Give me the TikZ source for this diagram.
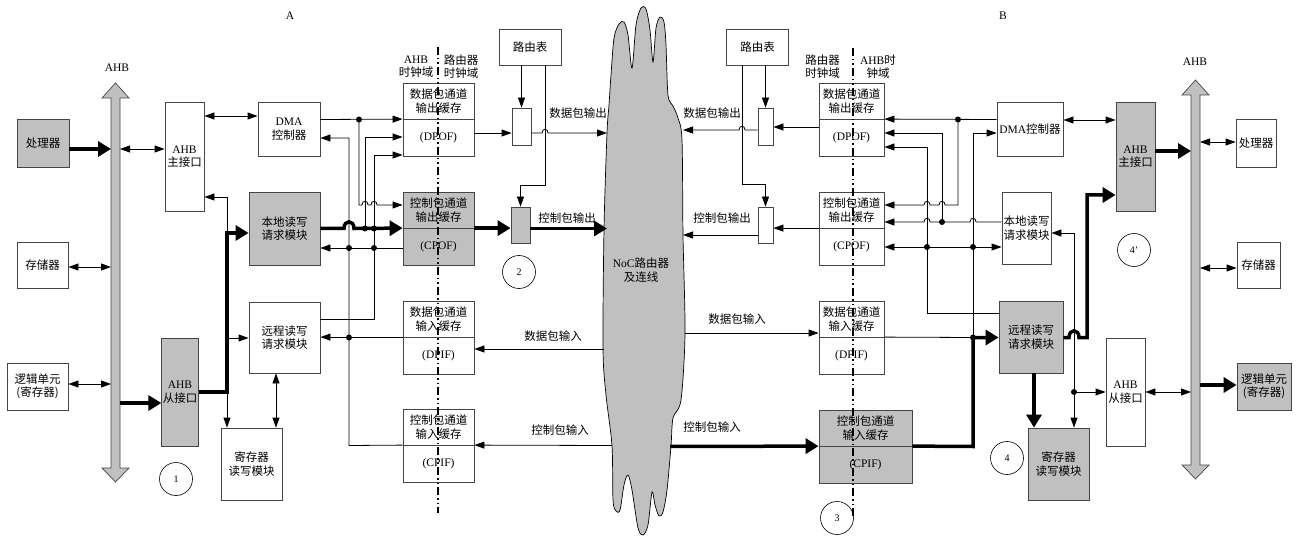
\documentclass[tikz,border=0pt]{standalone}
\usepackage{fontspec}
\setmainfont{Liberation Serif}
\newfontfamily\zh{Noto Sans CJK SC}
\usetikzlibrary{arrows.meta}
\usetikzlibrary{calc}

\definecolor{busgray}{RGB}{192,192,192}
\definecolor{rimgray}{RGB}{70,70,70}
\newcommand{\latn}[1]{{\rmfamily #1}}

\begin{document}
\begin{tikzpicture}[x=1pt, y=-1pt, font=\zh\fontsize{11.5}{13.5}\selectfont,
    blk/.style={draw=rimgray, line width=0.8pt, align=center, inner sep=1pt},
    gblk/.style={blk, fill=busgray},
    ln/.style={line width=0.8pt},
    arr/.style={ln, -{Triangle[length=10pt,width=7pt]}},
    darr/.style={ln, {Triangle[length=10pt,width=7pt]}-{Triangle[length=10pt,width=7pt]}},
    fat/.style={line width=3.5pt},
    fatarr/.style={fat, -{Triangle[length=13pt,width=15pt]}},
    hop/.style={to path={.. controls ($(\tikztostart)+(0,-#1)$) and ($(\tikztotarget)+(0,-#1)$) .. (\tikztotarget)}},
    hop/.default=5,
    num/.style={circle, draw, line width=0.6pt, minimum size=33pt, inner sep=0pt, font=\rmfamily\fontsize{10}{12}\selectfont},
    tag/.style={inner sep=0pt},
    clk/.style={line width=1.4pt, dash pattern=on 8pt off 3pt on 1.5pt off 3pt on 1.5pt off 3pt}]

        \useasboundingbox (0,0) rectangle (1298,537);

        % Draw the NoC cloud
        \filldraw[fill=busgray, draw=black, line width=0.7pt] plot[smooth cycle, tension=0.5] coordinates {
          (611,75) (614,38) (619,24) (624,22) (628,35) (632,68) (636,25) (641,8) (646,9) (650,30)
          (653,62) (656,28) (660,17) (664,22) (666,45) (668,95) (673,106) (678,118) (682,140)
          (683,235) (685,333) (681,400) (673,418) (671,446) (667,490) (663,512) (659,516)
          (655,505) (652,492) (648,525) (643,535) (638,528) (632,490) (628,475) (624,485)
          (620,510) (616,511) (613,500) (612,446) (606,395) (603,349) (604,229) (607,133) (609,105)};
        \node[tag, align=center] (noc) at (641,270) {\latn{NoC}路由器\\及连线};

        % Draw the two AHB buses
        \foreach \bx/\ty/\by in {115.5/83/482, 1195.5/80/479}
        {
          \filldraw[fill=busgray, draw=rimgray, line width=0.7pt]
            (\bx-4.5,\ty+15) -- (\bx-13.5,\ty+15) -- (\bx,\ty) -- (\bx+13.5,\ty+15) -- (\bx+4.5,\ty+15)
            -- (\bx+4.5,\by-14) -- (\bx+13.5,\by-14) -- (\bx,\by) -- (\bx-13.5,\by-14) -- (\bx-4.5,\by-14) -- cycle;
        }
        \node[tag] (ahbL) at (117,68) {\latn{AHB}};
        \node[tag] (ahbR) at (1195,62) {\latn{AHB}};
        \node[tag] (labA) at (290,16) {\latn{A}};
        \node[tag] (labB) at (1003,16) {\latn{B}};

        % Node A blocks
        \node[gblk, minimum width=52pt, minimum height=48pt] (proc) at (43,143) {处理器};
        \node[blk, minimum width=51pt, minimum height=46pt] (mem) at (42.5,265) {存储器};
        \node[blk, minimum width=61pt, minimum height=47pt] (logic) at (37.5,386.5) {逻辑单元\\(寄存器)};
        \node[blk, minimum width=39pt, minimum height=109pt] (mst) at (184.5,156.5) {\latn{AHB}\\主接口};
        \node[gblk, minimum width=36pt, minimum height=108pt] (slv) at (180,392) {\latn{AHB}\\从接口};
        \node[blk, minimum width=62pt, minimum height=54pt] (dma) at (289,129) {\latn{DMA}\\控制器};
        \node[gblk, minimum width=71pt, minimum height=73pt] (loc) at (284.5,228.5) {本地读写\\请求模块};
        \node[blk, minimum width=71pt, minimum height=71pt] (rem) at (284.5,337.5) {远程读写\\请求模块};
        \node[blk, minimum width=61pt, minimum height=72pt] (reg) at (251.5,464) {寄存器\\读写模块};
        \node[blk, minimum width=62pt, minimum height=36pt] (rt) at (530,47) {路由表};
        \node[blk, minimum width=19pt, minimum height=37pt] (dmux) at (521.5,126.5) {};
        \node[gblk, minimum width=19pt, minimum height=36pt] (cmux) at (520.5,225) {};

        % Node B blocks
        \node[blk, minimum width=62pt, minimum height=36pt] (rtR) at (757.5,47) {路由表};
        \node[blk, minimum width=15pt, minimum height=37pt] (dmuxR) at (765.5,126.5) {};
        \node[blk, minimum width=15pt, minimum height=36pt] (cmuxR) at (765.5,225) {};
        \node[blk, minimum width=66pt, minimum height=54pt] (dmaR) at (1030,129) {\latn{DMA}控制器};
        \node[blk, minimum width=49pt, minimum height=72pt] (locR) at (1026.5,228) {本地读写\\请求模块};
        \node[gblk, minimum width=64pt, minimum height=72pt] (remR) at (1031,337) {远程读写\\请求模块};
        \node[gblk, minimum width=61pt, minimum height=72pt] (regR) at (1058.5,464) {寄存器\\读写模块};
        \node[gblk, minimum width=39pt, minimum height=109pt] (mstR) at (1135.5,156.5) {\latn{AHB}\\主接口};
        \node[blk, minimum width=39pt, minimum height=108pt] (slvR) at (1125.5,392) {\latn{AHB}\\从接口};
        \node[blk, minimum width=40pt, minimum height=48pt] (procR) at (1256,143) {处理器};
        \node[blk, minimum width=43pt, minimum height=46pt] (memR) at (1258.5,265) {存储器};
        \node[gblk, minimum width=54pt, minimum height=47pt] (logicR) at (1264,386.5) {逻辑单元\\(寄存器)};

        % Draw the channel buffers (upper and lower half)
        \foreach \nm/\cx/\ty/\w/\fc/\txt/\ab in {
            dpof/438.5/83/71/white/{数据包通道\\输出缓存}/DPOF,
            cpof/438.5/192/71/busgray/{控制包通道\\输出缓存}/CPOF,
            dpif/438.5/301/71/white/{数据包通道\\输入缓存}/DPIF,
            cpif/438.5/409/71/white/{控制包通道\\输入缓存}/CPIF,
            dpofR/851.5/83/65/white/{数据包通道\\输出缓存}/DPOF,
            cpofR/851.5/192/65/white/{控制包通道\\输出缓存}/CPOF,
            dpifR/851.5/301/65/white/{数据包通道\\输入缓存}/DPIF,
            cpifR/865.5/410/93/busgray/{控制包通道\\输入缓存}/CPIF}
        {
          \node[blk, fill=\fc, minimum width=\w pt, minimum height=36.5pt] (\nm-t) at (\cx,\ty+18.25) {\txt};
          \node[blk, fill=\fc, minimum width=\w pt, minimum height=36.5pt] (\nm-b) at (\cx,\ty+54.75) {\latn{(\ab)}};
        }

        % Junction points of the wiring
        \foreach \p/\px/\py in {
            lb1/111/149, lb2/120/149, lb3/111/267, lb4/111/384, lb5/120/403,
            sA/227/392, sB/227/233, sC/227/197, sD/227/338, sE/276/400, dmaIO/230/116,
            dA/359/119.5, dB/359/205, eA/349/445.5, eC/349/138, eD/349/337.5,
            fA/374/248, fB/349/248, gA/365/228.5, gB/374/228.5, hA/365/137, iA/374/319, iB/374/155,
            jA/490/133, kA/545/185, cdo/607/133, cco/607/228.5, cdi/604/349, cci/612/445.5,
            rb1/1191/151, rb2/1200/142, rb3/1200/268, rb4/1200/385, rb5/1191/392,
            mA/1090/120, nA/1087/337.5, nB/1087/195, oA/1034/400, pA/1074/392, pB/1074/233,
            qA/958/119.5, qB/958/205, rA/942/222, rB/942/133, tA/973/247, tB/927/247,
            sF/927/313, sG/927/147, uA/973/337.5, uB/973/133, uC/973/446.5,
            vA/790/127, wA/750/130, xA/742/184,
            crdo/683/130, crco/683/235, crdi/685/333, crci/670/446.5}
        {
          \coordinate (\p) at (\px,\py);
        }

        % Node A: AHB side
        \draw[fatarr] (proc.east |- lb1) -- (lb1);
        \draw[darr] (lb2) -- (mst.west |- lb2);
        \draw[darr] (mem.east |- lb3) -- (lb3);
        \draw[darr] (logic.east |- lb4) -- (lb4);
        \draw[fatarr] (lb5) -- (slv.west |- lb5);
        \draw[darr] (mst.east |- dmaIO) -- (dma.west |- dmaIO);
        \draw[fatarr] (slv.east |- sA) -- (sA) -- (sB) -- (loc.west |- sB);
        \draw[arr] (sB) -- (sC) -- (mst.east |- sC);
        \draw[arr] (sD) -- (rem.west |- sD);
        \draw[arr] (sA) -- (reg.north -| sA);
        \draw[darr] (rem.south -| sE) -- (reg.north -| sE);

        % Node A: buffer side
        \draw[arr] (dma.east |- dA) -- (dpof-b.north west);
        \draw[arr] (dA) -- (dB) -- (362,205) to[hop] (368,205) -- (371,205) to[hop] (377,205) -- (cpof-t.west |- dB);
        \draw[arr] (cpif-b.north west) -- (eA) -- (eC) -- (dma.east |- eC);
        \draw[arr] (dpif-b.north west) -- (rem.east |- dpif-b.north west);
        \draw[arr] (cpof-b.west |- fA) -- (loc.east |- fA);
        \draw[fatarr] (loc.east |- gA) -- (344,228.5) to[hop=9] (354,228.5) -- (cpof-b.north west);
        \draw[arr] (gA) -- (hA) -- (dpof-b.west |- hA);
        \draw[arr] (rem.east |- iA) -- (iA) -- (iB) -- (dpof-b.west |- iB);
        \draw[arr] (dpof-b.east |- jA) -- (dmux.west |- jA);
        \draw[arr] (rt.south -| dmux.north) -- (dmux.north);
        \draw[arr] (rt.south -| kA) -- (kA) -- (kA -| cmux.north) -- (cmux.north);
        \draw[arr] (dmux.east |- jA) -- (542,133) to[hop] (548,133) -- (cdo);
        \draw[fatarr] (cpof-b.north east) -- (cmux.west |- cpof-b.north east);
        \draw[fatarr] (cmux.east |- cco) -- (cco);
        \draw[arr] (cdi) -- (dpif-b.east |- cdi);
        \draw[arr] (cci) -- (cpif-b.north east);

        % Node B: AHB side
        \draw[fatarr] (mstR.east |- rb1) -- (rb1);
        \draw[darr] (rb2) -- (procR.west |- rb2);
        \draw[darr] (rb3) -- (memR.west |- rb3);
        \draw[fatarr] (rb4) -- (logicR.west |- rb4);
        \draw[darr] (slvR.east |- rb5) -- (rb5);
        \draw[darr] (dmaR.east |- mA) -- (mstR.west |- mA);
        \draw[fatarr] (remR.east |- nA) -- (1069,337.5) to[hop=9] (1079,337.5) -- (nA) -- (nB) -- (mstR.west |- nB);
        \draw[fatarr] (remR.south -| oA) -- (regR.north -| oA);
        \draw[arr] (pA) -- (pB) -- (locR.east |- pB);
        \draw[arr] (pA) -- (regR.north -| pA);
        \draw[arr] (pA) -- (slvR.west |- pA);

        % Node B: buffer side
        \draw[arr] (dmaR.west |- qA) -- (dpofR-b.north east);
        \draw[arr] (qA) -- (qB) -- (945,205) to[hop] (939,205) -- (930,205) to[hop] (924,205) -- (cpofR-t.east |- qB);
        \draw[arr] (locR.west |- rA) -- (976,222) to[hop] (970,222) -- (rA) -- (930,222) to[hop] (924,222) -- (cpofR-t.east |- rA);
        \draw[arr] (rA) -- (rB) -- (dpofR-b.east |- rB);
        \draw[arr] (remR.west |- sF) -- (sF) -- (sG) -- (dpofR-b.east |- sG);
        \draw[darr] (cpofR-b.east |- tA) -- (locR.west |- tA);
        \draw[arr] (uA) -- (uB) -- (dmaR.west |- uB);
        \draw[ln] (dpifR-b.north east) -- (uA);
        \draw[fatarr] (cpifR-b.north east) -- (uC) -- (uA) -- (remR.west |- uA);
        \draw[arr] (crdi) -- (dpifR-t.west |- crdi);
        \draw[fatarr] (crci) -- (cpifR-b.north west);
        \draw[arr] (dpofR-b.west |- vA) -- (dmuxR.east |- vA);
        \draw[arr] (dmuxR.west |- wA) -- (745,130) to[hop] (739,130) -- (crdo);
        \draw[arr] (rtR.south -| dmuxR.north) -- (dmuxR.north);
        \draw[arr] (rtR.south -| xA) -- (xA) -- (xA -| cmuxR.north) -- (cmuxR.north);
        \draw[arr] (cpofR-b.north west) -- (cmuxR.east |- cpofR-b.north west);
        \draw[arr] (cmuxR.west |- crco) -- (crco);

        % Junction dots
        \foreach \p in {dA, eD, fA, fB, gA, gB, qA, rA, tA, tB, uA, pA}
          \fill (\p) circle[radius=3];

        % Wire labels
        \node[tag] (dpoL) at (578,113) {数据包输出};
        \node[tag] (cpoL) at (567,218) {控制包输出};
        \node[tag] (dpiL) at (553,336) {数据包输入};
        \node[tag] (cpiL) at (560,430) {控制包输入};
        \node[tag] (dpoR) at (712,113) {数据包输出};
        \node[tag] (cpoR) at (722,218) {控制包输出};
        \node[tag] (dpiR) at (737,319) {数据包输入};
        \node[tag] (cpiR) at (712,427) {控制包输入};

        % Clock domain borders
        \draw[clk] (438,47) -- (438,513);
        \draw[clk] (853,48) -- (853,517);
        \node[tag, align=center] (clkL1) at (416,66.5) {\latn{AHB}\\时钟域};
        \node[tag, align=center] (clkL2) at (461,66.5) {路由器\\时钟域};
        \node[tag, align=center] (clkR1) at (822.5,66.5) {路由器\\时钟域};
        \node[tag, align=center] (clkR2) at (878,66.5) {\latn{AHB}时\\钟域};

        % Numbered markers
        \node[num] (n1) at (176,479) {1};
        \node[num] (n2) at (519,272) {2};
        \node[num] (n3) at (837,518) {3};
        \node[num] (n4) at (1007,458) {4};
        \node[num] (n4p) at (1134,250) {4'};
      \end{tikzpicture}
\end{document}
